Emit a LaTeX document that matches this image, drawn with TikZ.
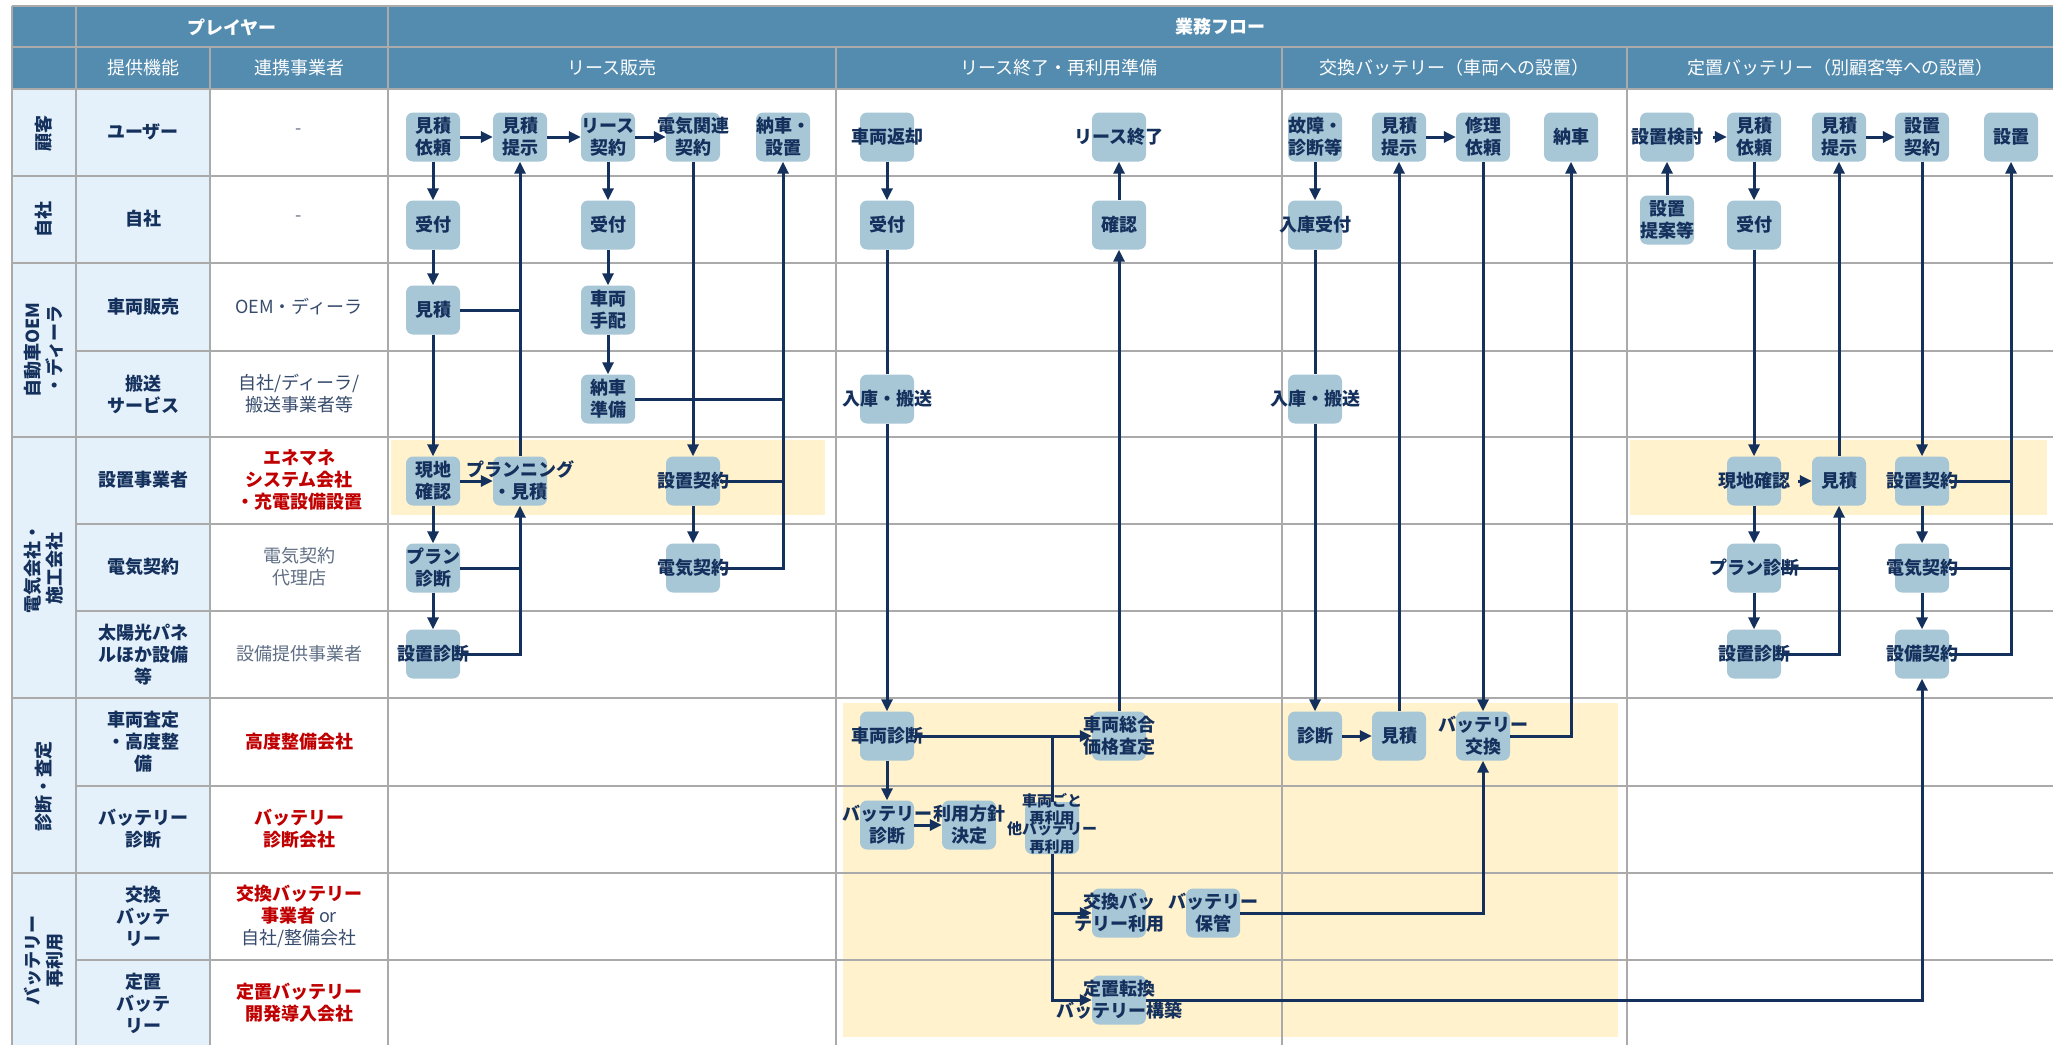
\documentclass[tikz,border=0pt]{standalone}
\usepackage{fontspec}
\setmainfont{Noto Sans CJK JP}
\usetikzlibrary{arrows.meta}
\definecolor{hdrblue}{RGB}{84,140,175}
\definecolor{cellblue}{RGB}{229,241,250}
\definecolor{gridgray}{RGB}{170,170,170}
\definecolor{boxblue}{RGB}{167,198,214}
\definecolor{navy}{RGB}{20,48,92}
\definecolor{hlyellow}{RGB}{255,242,204}
\definecolor{redtext}{RGB}{192,0,0}
\definecolor{slate}{RGB}{55,75,108}
\definecolor{slategray}{RGB}{95,110,132}
\newcommand{\ov}[1]{\makebox[0pt]{#1}}
\tikzstyle{task} = [rectangle, rounded corners=7pt, fill=boxblue, minimum width=54pt, minimum height=49pt, inner sep=0pt, align=center, text=navy, font=\fontsize{18}{22}\selectfont\bfseries]
\tikzstyle{connector} = [line width=3pt, draw=navy]
\tikzstyle{arrow} = [connector, -{Triangle[length=12pt,width=11pt]}]
\tikzstyle{gridline} = [line width=2.6pt, draw=gridgray]
\tikzstyle{header} = [text=white, font=\fontsize{18}{22}\selectfont]
\tikzstyle{role} = [align=center, text=navy, font=\fontsize{18}{22}\selectfont\bfseries]
\tikzstyle{partner} = [align=center, text=slate, font=\fontsize{18}{22}\selectfont]
\tikzstyle{group} = [role, rotate=90]
\begin{document}
\begin{tikzpicture}[x=1pt, y=-1pt]
            \useasboundingbox (0,0) rectangle (2053,1044);
            % table
            \fill[hdrblue] (12,6) rectangle (2053,89);
            \fill[cellblue] (12,89) rectangle (210,1047);
            \fill[hlyellow] (391,440) rectangle (825,515);
            \fill[hlyellow] (1630,440) rectangle (2047,515);
            \fill[hlyellow] (843,703) rectangle (1618,1037);
            \foreach \y in {6,47,89,176,263,437,698,873} \draw[gridline] (12,\y) -- (2053,\y);
            \foreach \y in {351,524,611,786,960} \draw[gridline] (76,\y) -- (2053,\y);
            \foreach \x in {12,76,388} \draw[gridline] (\x,6) -- (\x,1047);
            \foreach \x in {210,836,1282,1627} \draw[gridline] (\x,47) -- (\x,1047);
            % headers
            \node (hdrPlayer) [header, font=\fontsize{18}{22}\selectfont\bfseries] at (232,27) {プレイヤー};
            \node (hdrFlow) [header, font=\fontsize{18}{22}\selectfont\bfseries] at (1220,27) {業務フロー};
            \node (hdrFunc) [header] at (143,68) {提供機能};
            \node (hdrPartner) [header] at (299,68) {連携事業者};
            \node (hdrLease) [header] at (612,68) {リース販売};
            \node (hdrEnd) [header] at (1059,68) {リース終了・再利用準備};
            \node (hdrSwap) [header] at (1454,68) {交換バッテリー（車両への設置）};
            \node (hdrStat) [header] at (1840,68) {定置バッテリー（別顧客等への設置）};
            % players
            \node (grpCust) [group] at (44,133) {顧客};
            \node (grpOwn) [group] at (44,219) {自社};
            \node (grpOem) [group] at (44,350) {自動車OEM\\・ディーラ};
            \node (grpElec) [group] at (44,568) {電気会社・\\施工会社};
            \node (grpDiag) [group] at (44,786) {診断・査定};
            \node (grpReuse) [group] at (44,960) {バッテリー\\再利用};
            \node (roleUser) [role] at (143,132) {ユーザー};
            \node (roleOwn) [role] at (143,219) {自社};
            \node (roleSales) [role] at (143,307) {車両販売};
            \node (roleCarry) [role] at (143,394) {搬送\\サービス};
            \node (roleInst) [role] at (143,480) {設置事業者};
            \node (roleElec) [role] at (143,567) {電気契約};
            \node (roleSolar) [role] at (143,655) {太陽光パネ\\ルほか設備\\等};
            \node (roleAssess) [role] at (143,742) {車両査定\\・高度整\\備};
            \node (roleBdiag) [role] at (143,829) {バッテリー\\診断};
            \node (roleSwap) [role] at (143,916) {交換\\バッテ\\リー};
            \node (roleStat) [role] at (143,1003) {定置\\バッテ\\リー};
            \node (partUser) [partner, text=slategray] at (299,132) {-};
            \node (partOwn) [partner, text=slategray] at (299,219) {-};
            \node (partSales) [partner] at (299,307) {OEM・ディーラ};
            \node (partCarry) [partner] at (299,394) {自社/ディーラ/\\搬送事業者等};
            \node (partInst) [partner, text=redtext, font=\fontsize{18}{22}\selectfont\bfseries] at (299,480) {エネマネ\\システム会社\\・充電設備設置};
            \node (partElec) [partner, text=slategray] at (299,567) {電気契約\\代理店};
            \node (partSolar) [partner, text=slategray] at (299,654) {設備提供事業者};
            \node (partAssess) [partner, text=redtext, font=\fontsize{18}{22}\selectfont\bfseries] at (299,742) {高度整備会社};
            \node (partBdiag) [partner, text=redtext, font=\fontsize{18}{22}\selectfont\bfseries] at (299,829) {バッテリー\\診断会社};
            \node (partSwap) [partner] at (299,916) {\textcolor{redtext}{\bfseries 交換バッテリー}\\\textcolor{redtext}{\bfseries 事業者} or\\自社/整備会社};
            \node (partStat) [partner, text=redtext, font=\fontsize{18}{22}\selectfont\bfseries] at (299,1003) {定置バッテリー\\開発導入会社};
            % lease
            \node (Lirai) [task] at (433,137) {\ov{見積}\\\ov{依頼}};
            \node (Lteiji) [task] at (520,137) {\ov{見積}\\\ov{提示}};
            \node (Llease) [task] at (608,137) {\ov{リース}\\\ov{契約}};
            \node (Ldenki) [task] at (693,137) {\ov{電気関連}\\\ov{契約}};
            \node (Lnousha) [task] at (783,137) {\ov{納車・}\\\ov{設置}};
            \node (Luketsuke) [task] at (433,225) {受付};
            \node (Luketsuke2) [task] at (608,225) {受付};
            \node (Lmitsumori) [task] at (433,310) {見積};
            \node (Ltehai) [task] at (608,310) {\ov{車両}\\\ov{手配}};
            \node (Ljunbi) [task] at (608,399) {\ov{納車}\\\ov{準備}};
            \node (Lgenchi) [task] at (433,481) {\ov{現地}\\\ov{確認}};
            \node (Lplan) [task] at (520,481) {\ov{プランニング}\\\ov{・見積}};
            \node (Lsetchi) [task] at (693,481) {\ov{設置契約}};
            \node (Lpdiag) [task] at (433,568) {\ov{プラン}\\\ov{診断}};
            \node (Ldkeiyaku) [task] at (693,568) {\ov{電気契約}};
            \node (Lsdiag) [task] at (433,654) {\ov{設置診断}};
            \draw [arrow] (Lirai) -- (Lteiji);
            \draw [arrow] (Lteiji) -- (Llease);
            \draw [arrow] (Llease) -- (Ldenki);
            \draw [arrow] (Lirai) -- (Luketsuke);
            \draw [arrow] (Luketsuke) -- (Lmitsumori);
            \draw [arrow] (Lmitsumori) -- (Lgenchi);
            \draw [connector] (Lmitsumori.east) -- (Lmitsumori.east -| Lteiji.south);
            \draw [arrow] (Lgenchi) -- (Lplan);
            \draw [arrow] (Lplan) -- (Lteiji);
            \draw [arrow] (Lgenchi) -- (Lpdiag);
            \draw [arrow] (Lpdiag) -- (Lsdiag);
            \draw [arrow] (Lpdiag.east) -| (Lplan.south);
            \draw [connector] (Lsdiag.east) -| (Lpdiag.east -| Lplan.south);
            \draw [arrow] (Llease) -- (Luketsuke2);
            \draw [arrow] (Luketsuke2) -- (Ltehai);
            \draw [arrow] (Ltehai) -- (Ljunbi);
            \draw [arrow] (Ldenki) -- (Lsetchi);
            \draw [arrow] (Lsetchi) -- (Ldkeiyaku);
            \draw [arrow] (Ldkeiyaku.east) -| (Lnousha.south);
            \draw [connector] (Lsetchi.east) -- (Lsetchi.east -| Lnousha.south);
            \draw [connector] (Ljunbi.east) -- (Ljunbi.east -| Lnousha.south);
            % lease end
            \node (Mhenkyaku) [task] at (887,137) {\ov{車両返却}};
            \node (Mend) [task] at (1119,137) {\ov{リース終了}};
            \node (Muketsuke) [task] at (887,225) {受付};
            \node (Mkakunin) [task] at (1119,225) {確認};
            \node (Mnyuko) [task] at (887,399) {\ov{入庫・搬送}};
            \node (Mshindan) [task] at (887,736) {\ov{車両診断}};
            \node (Msatei) [task] at (1119,736) {\ov{車両総合}\\\ov{価格査定}};
            \node (Mbdiag) [task] at (887,825) {\ov{バッテリー}\\\ov{診断}};
            \node (Mhoushin) [task] at (969,825) {\ov{利用方針}\\\ov{決定}};
            \node (Mreuse) [task, minimum height=52pt] at (1052,828) {};
            \node (MreuseCar) [role, font=\fontsize{15}{17}\selectfont\bfseries] at (1052,809) {車両ごと\\再利用};
            \node (MreuseBat) [role, font=\fontsize{15}{18}\selectfont\bfseries] at (1052,838) {他バッテリー\\再利用};
            \node (Mkoukan) [task] at (1119,913) {\ov{交換バッ}\\\ov{テリー利用}};
            \node (Mhokan) [task] at (1213,913) {\ov{バッテリー}\\\ov{保管}};
            \node (Mteichi) [task] at (1119,1000) {\ov{定置転換}\\\ov{バッテリー構築}};
            \draw [arrow] (Mhenkyaku) -- (Muketsuke);
            \draw [connector] (Muketsuke) -- (Mnyuko);
            \draw [arrow] (Mnyuko) -- (Mshindan);
            \draw [arrow] (Mkakunin) -- (Mend);
            \draw [arrow] (Msatei) -- (Mkakunin);
            \draw [arrow] (Mshindan) -- (Msatei);
            \draw [arrow] (Mshindan) -- (Mbdiag);
            \draw [arrow] (Mbdiag) -- (Mhoushin);
            \draw [connector] (Mreuse.north) -- (Mreuse.north |- Mshindan.east);
            \draw [arrow] (Mreuse.south) |- (Mkoukan.west);
            \draw [arrow] (Mreuse.south) |- (Mteichi.west);
            % swap battery
            \node (Xkosho) [task] at (1315,137) {\ov{故障・}\\\ov{診断等}};
            \node (Xteiji) [task] at (1399,137) {\ov{見積}\\\ov{提示}};
            \node (Xirai) [task] at (1483,137) {\ov{修理}\\\ov{依頼}};
            \node (Xnousha) [task] at (1571,137) {納車};
            \node (Xuketsuke) [task] at (1315,225) {\ov{入庫受付}};
            \node (Xnyuko) [task] at (1315,399) {\ov{入庫・搬送}};
            \node (Xshindan) [task] at (1315,736) {診断};
            \node (Xmitsumori) [task] at (1399,736) {見積};
            \node (Xkoukan) [task] at (1483,736) {\ov{バッテリー}\\\ov{交換}};
            \draw [arrow] (Xkosho) -- (Xuketsuke);
            \draw [connector] (Xuketsuke) -- (Xnyuko);
            \draw [arrow] (Xnyuko) -- (Xshindan);
            \draw [arrow] (Xteiji) -- (Xirai);
            \draw [arrow] (Xmitsumori) -- (Xteiji);
            \draw [arrow] (Xirai) -- (Xkoukan);
            \draw [arrow] (Xshindan) -- (Xmitsumori);
            \draw [arrow] (Xkoukan.east) -| (Xnousha.south);
            \draw [arrow] (Mhokan.east) -| (Xkoukan.south);
            % stationary battery
            \node (Tkento) [task] at (1667,137) {\ov{設置検討}};
            \node (Tirai) [task] at (1754,137) {\ov{見積}\\\ov{依頼}};
            \node (Tteiji) [task] at (1839,137) {\ov{見積}\\\ov{提示}};
            \node (Tkeiyaku) [task] at (1922,137) {\ov{設置}\\\ov{契約}};
            \node (Tsetchi) [task] at (2011,137) {設置};
            \node (Tteian) [task] at (1667,220) {\ov{設置}\\\ov{提案等}};
            \node (Tuketsuke) [task] at (1754,225) {受付};
            \node (Tgenchi) [task] at (1754,481) {\ov{現地確認}};
            \node (Tmitsumori) [task] at (1839,481) {見積};
            \node (Tskeiyaku) [task] at (1922,481) {\ov{設置契約}};
            \node (Tpdiag) [task] at (1754,568) {\ov{プラン診断}};
            \node (Tdkeiyaku) [task] at (1922,568) {\ov{電気契約}};
            \node (Tsdiag) [task] at (1754,654) {\ov{設置診断}};
            \node (Tsetsubi) [task] at (1922,654) {\ov{設備契約}};
            \draw [arrow] ([xshift=19pt]Tkento.east) -- (Tirai);
            \draw [arrow] (Tteian) -- (Tkento);
            \draw [arrow] (Tirai) -- (Tuketsuke);
            \draw [arrow] (Tuketsuke) -- (Tgenchi);
            \draw [arrow] ([xshift=17pt]Tgenchi.east) -- (Tmitsumori);
            \draw [arrow] (Tmitsumori) -- (Tteiji);
            \draw [arrow] (Tteiji) -- (Tkeiyaku);
            \draw [arrow] (Tkeiyaku) -- (Tskeiyaku);
            \draw [arrow] (Tgenchi) -- (Tpdiag);
            \draw [arrow] (Tpdiag) -- (Tsdiag);
            \draw [arrow] (Tpdiag.east) -| (Tmitsumori.south);
            \draw [connector] (Tsdiag.east) -| (Tpdiag.east -| Tmitsumori.south);
            \draw [arrow] (Tskeiyaku) -- (Tdkeiyaku);
            \draw [arrow] (Tdkeiyaku) -- (Tsetsubi);
            \draw [arrow] (Tsetsubi.east) -| (Tsetchi.south);
            \draw [connector] (Tskeiyaku.east) -- (Tskeiyaku.east -| Tsetchi.south);
            \draw [connector] (Tdkeiyaku.east) -- (Tdkeiyaku.east -| Tsetchi.south);
            \draw [arrow] (Mteichi.east) -| (Tsetsubi.south);
        \end{tikzpicture}
\end{document}
